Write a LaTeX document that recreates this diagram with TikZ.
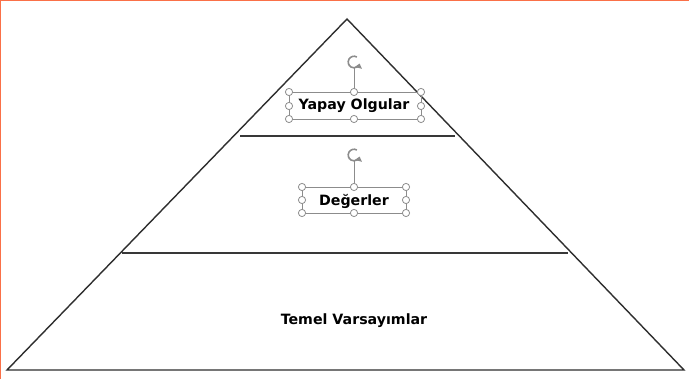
\documentclass[tikz,border=0pt]{standalone}
\usepackage{fontspec}
\usepackage{xcolor}
\newfontfamily\lblfont{DejaVu Sans}
\usetikzlibrary{arrows.meta}

\definecolor{frameorange}{RGB}{250,112,72}
\definecolor{handlegray}{RGB}{140,140,140}

\tikzset{
    lvl/.style={font=\lblfont\bfseries\fontsize{14.2}{17}\selectfont, inner sep=1pt},
    edge/.style={line width=1.4pt, color=black!82},
    divider/.style={line width=2.2pt, color=black!78},
    selframe/.style={line width=0.6pt, draw=handlegray},
    handle/.style={line width=0.8pt, draw=handlegray, fill=white},
    rotmark/.style={draw=handlegray, line width=1.6pt,
        -{Triangle[length=4.5pt, width=7pt]}},
}

\begin{document}
\begin{tikzpicture}[x=1pt, y=-1pt]
    \useasboundingbox (0,0) rectangle (689,379);
    \fill[color=white] (0,0) rectangle (689,379);
    \draw[color=frameorange, line width=2pt] (0,379) -- (0,0) -- (689,0);

    % pyramid
    \coordinate (apex) at (347,19);
    \coordinate (bl) at (7,370);
    \coordinate (br) at (684,370);
    \draw[edge, line join=miter] (bl) -- (apex) -- (br) -- cycle;

    % layers
    \coordinate (d1l) at (240,136);
    \coordinate (d1r) at (455,136);
    \coordinate (d2l) at (122,253);
    \coordinate (d2r) at (568,253);
    \draw[divider] (d1l) -- (d1r);
    \draw[divider] (d2l) -- (d2r);

    % selection frames
    \draw[selframe] (289,92) rectangle (421,119);
    \draw[selframe] (354,68) -- (354,92);
    \foreach \x/\y in {289/92,354/92,421/92,289/106,421/106,289/119,354/119,421/119}
        \draw[handle] (\x,\y) circle [radius=3.6];
    \draw[selframe] (302,187) rectangle (406,213);
    \draw[selframe] (354,161) -- (354,187);
    \foreach \x/\y in {302/187,354/187,406/187,302/200,406/200,302/213,354/213,406/213}
        \draw[handle] (\x,\y) circle [radius=3.6];

    % rotation marks
    \draw[rotmark] (356.9,57.0) arc [start angle=-60, end angle=-345, radius=5.8];
    \draw[rotmark] (356.9,150.0) arc [start angle=-60, end angle=-345, radius=5.8];

    % labels
    \node[lvl] (yapay) at (354,106) {Yapay Olgular};
    \node[lvl] (deger) at (354,201) {Değerler};
    \node[lvl] (temel) at (354,321) {Temel Varsayımlar};
\end{tikzpicture}
\end{document}
